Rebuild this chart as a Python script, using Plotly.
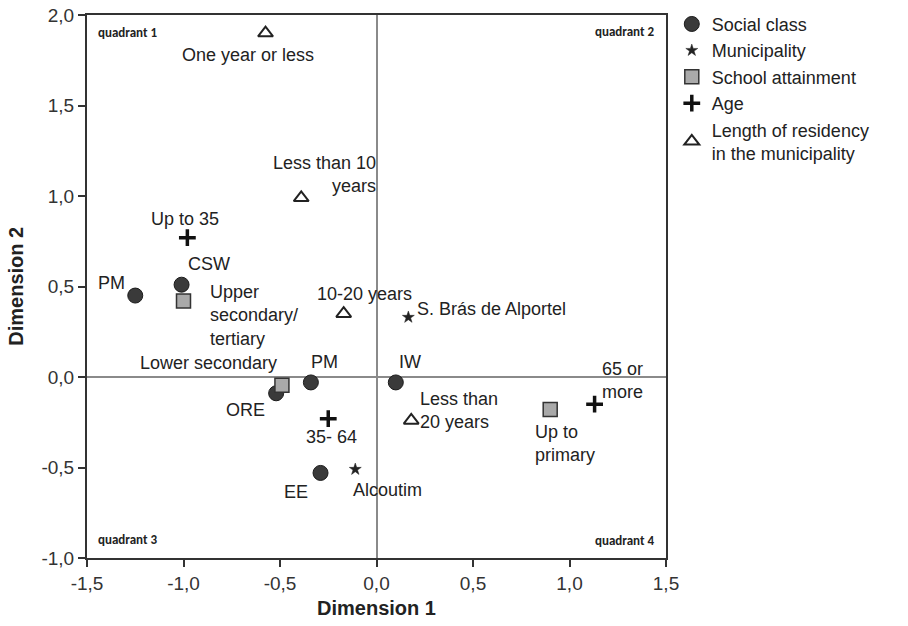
import plotly.graph_objects as go

# ---- data ----
social_labels = ["PM", "CSW", "PM", "ORE", "IW", "EE"]
social_x = [-1.25, -1.01, -0.34, -0.52, 0.10, -0.29]
social_y = [0.45, 0.51, -0.03, -0.09, -0.03, -0.53]

muni_labels = ["S. Brás de Alportel", "Alcoutim"]
muni_x = [0.165, -0.11]
muni_y = [0.33, -0.51]

school_labels = ["Upper<br>secondary/<br>tertiary", "Lower secondary", "Up to<br>primary"]
school_x = [-1.0, -0.49, 0.90]
school_y = [0.42, -0.045, -0.18]

age_labels = ["Up to 35", "35- 64", "65 or<br>more"]
age_x = [-0.98, -0.25, 1.13]
age_y = [0.77, -0.23, -0.15]

res_labels = ["One year or less", "Less than 10<br>years", "10-20 years", "Less than<br>20 years"]
res_x = [-0.575, -0.39, -0.17, 0.18]
res_y = [1.90, 0.99, 0.35, -0.24]

tick_vals_x = [-1.5, -1.0, -0.5, 0.0, 0.5, 1.0, 1.5]
tick_text_x = ["-1,5", "-1,0", "-0,5", "0,0", "0,5", "1,0", "1,5"]
tick_vals_y = [-1.0, -0.5, 0.0, 0.5, 1.0, 1.5, 2.0]
tick_text_y = ["-1,0", "-0,5", "0,0", "0,5", "1,0", "1,5", "2,0"]

# ---- label placement (pixel offsets; style only) ----
place = {
    "social": [(-24, 13, "center", "center"), (27, 21, "center", "center"), (14, 20, "center", "center"),
               (-31, -17, "center", "center"), (14, 20, "center", "center"), (-25, -19, "center", "center")],
    "muni": [(7, 8, "left", "left"), (32, -21, "center", "center")],
    "school": [(24, -15, "left", "left"), (-3, 22, "right", "right"), (-17, -34, "left", "left")],
    "age": [(-2, 19, "center", "center"), (3, -18, "center", "center"), (28, 24, "center", "center")],
    "res": [(-18, -22, "center", "center"), (77, 23, "right", "right"), (21, 20, "center", "center"),
            (7, 10, "left", "left")],
}

FONT = "Liberation Sans, Arial, sans-serif"
fig = go.Figure()

fig.add_trace(go.Scatter(x=social_x, y=social_y, mode="markers", name="Social class",
                         marker=dict(symbol="circle", size=15, color="#3a3a3a",
                                     line=dict(color="#1a1a1a", width=1))))
fig.add_trace(go.Scatter(x=muni_x, y=muni_y, mode="markers", name="Municipality",
                         marker=dict(symbol="star", size=9, color="#222",
                                     line=dict(color="#222", width=0.5))))
fig.add_trace(go.Scatter(x=school_x, y=school_y, mode="markers", name="School attainment",
                         marker=dict(symbol="square", size=14, color="#a9a9a9",
                                     line=dict(color="#333", width=1.5))))
fig.add_trace(go.Scatter(x=age_x, y=age_y, mode="markers", name="Age",
                         marker=dict(symbol="cross-thin", size=12, color="#111",
                                     line=dict(color="#111", width=3.5))))
fig.add_trace(go.Scatter(x=res_x, y=res_y, mode="markers",
                         name="Length of residency<br>in the municipality",
                         marker=dict(symbol="triangle-up-open", size=13, color="#222",
                                     line=dict(color="#222", width=2))))

groups = [("social", social_labels, social_x, social_y),
          ("muni", muni_labels, muni_x, muni_y),
          ("school", school_labels, school_x, school_y),
          ("age", age_labels, age_x, age_y),
          ("res", res_labels, res_x, res_y)]
for key, labs, xs, ys in groups:
    for (lab, xv, yv, (dx, dy, xa, al)) in zip(labs, xs, ys, place[key]):
        fig.add_annotation(x=xv, y=yv, text=lab, showarrow=False, xshift=dx, yshift=dy,
                           xanchor=xa, align=al, yanchor="middle",
                           font=dict(family=FONT, size=18, color="#222"))

# quadrant labels
qfont = dict(family="Carlito, Liberation Sans, Arial, sans-serif", size=13, color="#222")
for txt, xx, yy, xa in [("quadrant 1", 0.016, 0.967, "left"), ("quadrant 2", 0.983, 0.97, "right"),
                        ("quadrant 3", 0.016, 0.034, "left"), ("quadrant 4", 0.983, 0.032, "right")]:
    fig.add_annotation(x=xx, y=yy, xref="x domain", yref="y domain", text="<b>%s</b>" % txt,
                       showarrow=False, xanchor=xa, yanchor="middle", font=qfont)

# y-axis title (placed as a rotated annotation to sit close to the page edge)
fig.add_annotation(x=-0.124, y=0.5, xref="paper", yref="paper", text="<b>Dimension 2</b>",
                   textangle=-90, showarrow=False, xanchor="center", yanchor="middle",
                   font=dict(family=FONT, size=20, color="#222"))

axis_common = dict(showgrid=False, zeroline=True, zerolinecolor="#8a8a8a", zerolinewidth=1.5,
                   showline=True, linecolor="#333", linewidth=2, mirror=True,
                   ticks="outside", ticklen=7, tickwidth=2, tickcolor="#333",
                   tickfont=dict(family=FONT, size=19, color="#333"), automargin=False,
                   ticklabeloverflow="allow")

fig.update_xaxes(range=[-1.5, 1.5], tickvals=tick_vals_x, ticktext=tick_text_x,
                 title=dict(text="<b>Dimension 1</b>", font=dict(family=FONT, size=20, color="#222"),
                            standoff=8),
                 **axis_common)
fig.update_yaxes(range=[-1.0, 2.0], tickvals=tick_vals_y, ticktext=tick_text_y,
                 **axis_common)

fig.update_layout(
    width=908, height=626,
    margin=dict(l=87, r=242, t=15, b=68, autoexpand=False),
    plot_bgcolor="white", paper_bgcolor="white",
    showlegend=True,
    legend=dict(x=1.01, y=1.017, xanchor="left", yanchor="top",
                font=dict(family=FONT, size=18, color="#222"),
                bgcolor="rgba(0,0,0,0)", tracegroupgap=0, itemsizing="trace"),
    font=dict(family=FONT),
)

# remove the default 8px page margin so the figure sits at the window's top-left corner
fig.write_html("out.html", config={"displayModeBar": False},
               post_script="document.body.style.margin='0';")
